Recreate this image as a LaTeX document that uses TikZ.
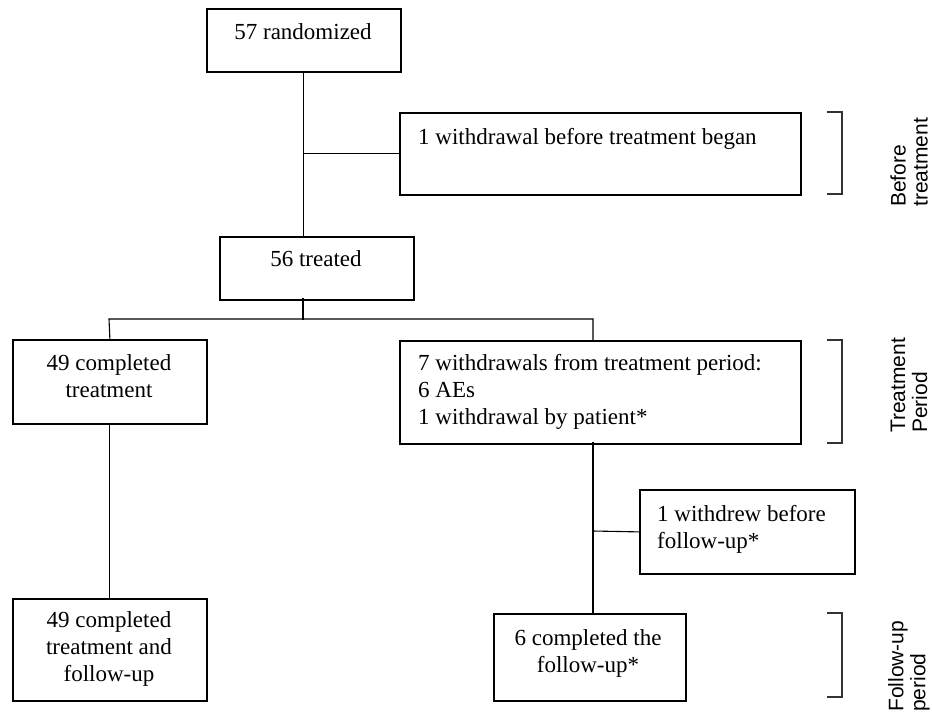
\documentclass[tikz,border=0pt]{standalone}
\usepackage{fontspec}
\setmainfont{Liberation Serif}
\newfontfamily\labelfont{Liberation Sans}
\begin{document}
\begin{tikzpicture}[x=1pt,y=-1pt,
  box/.style={draw=black,line width=1.8pt,anchor=north west,inner sep=0pt},
  conn/.style={draw=black,line width=1.1pt,line cap=rect},
  brk/.style={draw=black!80,line width=1.5pt},
  txt/.style={inner sep=0pt,font=\fontsize{23}{27}\selectfont},
  side/.style={inner sep=0pt,rotate=90,align=left,anchor=west,font=\labelfont\fontsize{21}{22}\selectfont}]
\useasboundingbox[fill=white] (0,0) rectangle (932,715);
% boxes
\node[box,minimum width=194pt,minimum height=63pt] (rand) at (206,8) {};
\node[box,minimum width=401pt,minimum height=82pt] (wd0) at (399,112) {};
\node[box,minimum width=194pt,minimum height=63pt] (treat) at (219,236) {};
\node[box,minimum width=194pt,minimum height=84pt] (comp) at (12,339) {};
\node[box,minimum width=401pt,minimum height=103pt] (wd7) at (399,340) {};
\node[box,minimum width=215pt,minimum height=84pt] (wd1) at (639,489) {};
\node[box,minimum width=194pt,minimum height=102pt] (compfu) at (12,598) {};
\node[box,minimum width=192pt,minimum height=87pt] (six) at (493,613) {};
% texts (anchor base = baseline of last line)
\node[txt,anchor=base] (trand) at (303,39) {57 randomized};
\node[txt,anchor=base west] (twd0) at (418,144.5) {1 withdrawal before treatment began};
\node[txt,anchor=base] (ttreat) at (316,266.5) {56 treated};
\node[txt,anchor=base,align=center] (tcomp) at (109,397.5) {49 completed\\treatment};
\node[txt,anchor=base west,align=left] (twd7) at (418,424.5) {7 withdrawals from treatment period:\\6 AEs\\1 withdrawal by patient*};
\node[txt,anchor=base west,align=left] (twd1) at (657,548.5) {1 withdrew before\\follow-up*};
\node[txt,anchor=base,align=center] (tcompfu) at (109,681.5) {49 completed\\treatment and\\follow-up};
\node[txt,anchor=base,align=center] (tsix) at (588,672) {6 completed the\\follow-up*};
% connectors
\coordinate (b0) at (rand.south |- wd0.west);
\coordinate (s0) at (303,299);
\coordinate (s1) at (303,319);
\coordinate (sl) at (109,319);
\coordinate (sr) at (593,319);
\coordinate (r1) at (593,443);
\coordinate (r2) at (593,613);
\coordinate (b1) at (593,531);
\draw[conn] (rand.south) -- (rand.south |- treat.north);
\draw[conn] (b0) -- (wd0.west);
\draw[conn] (s0) -- (s1);
\draw[conn] (comp.north) -- (sl) -- (sr) -- (sr |- wd7.north);
\draw[conn] (comp.south) -- (compfu.north);
\draw[conn] (r1) -- (r2);
\draw[conn] (b1) -- (wd1.west);
% brackets
\draw[brk] (827,112) -- (842,112) -- (842,194) -- (827,194);
\draw[brk] (827,340) -- (842,340) -- (842,443) -- (827,443);
\draw[brk] (827,613) -- (842,613) -- (842,697) -- (827,697);
% side labels
\node[side] (lb1) at (909,207) {Before\\treatment};
\node[side] (lb2) at (909,433) {Treatment\\Period};
\node[side] (lb3) at (909,712) {Follow-up\\period};
\end{tikzpicture}
\end{document}
